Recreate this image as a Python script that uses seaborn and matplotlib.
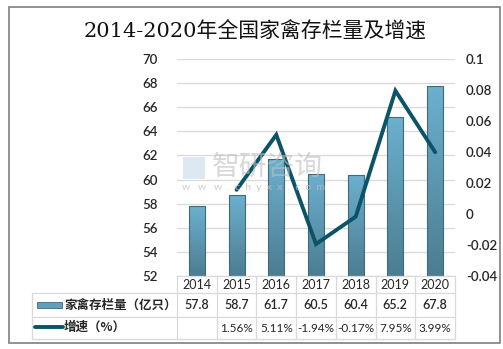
import numpy as np
import pandas as pd
import matplotlib
matplotlib.use("Agg")
import matplotlib.pyplot as plt
import seaborn as sns
from matplotlib.patches import Rectangle
from matplotlib.lines import Line2D
from matplotlib.colors import LinearSegmentedColormap

years = ["2014", "2015", "2016", "2017", "2018", "2019", "2020"]
stock = [57.8, 58.7, 61.7, 60.5, 60.4, 65.2, 67.8]
growth = [np.nan, 0.0156, 0.0511, -0.0194, -0.0017, 0.0795, 0.0399]
stock_labels = ["57.8", "58.7", "61.7", "60.5", "60.4", "65.2", "67.8"]
growth_labels = ["", "1.56%", "5.11%", "-1.94%", "-0.17%", "7.95%", "3.99%"]
left_ticks = [52, 54, 56, 58, 60, 62, 64, 66, 68, 70]
right_ticks = [-0.04, -0.02, 0, 0.02, 0.04, 0.06, 0.08, 0.1]
right_tick_labels = ["-0.04", "-0.02", "0", "0.02", "0.04", "0.06", "0.08", "0.1"]
title = "2014-2020年全国家禽存栏量及增速"
series1 = "家禽存栏量（亿只）"
series2 = "增速（%）"

sns.set_theme(style="white")
plt.rcParams["font.family"] = ["Lato", "Noto Sans CJK SC", "DejaVu Sans"]

W, H = 503, 349
fig = plt.figure(figsize=(W / 100, H / 100), dpi=100)

def fx(x):
    return x / W

def fy(y):
    return 1 - y / H

# plot area in pixels
L, R, T, B = 177, 455, 59, 276
ax = fig.add_axes([fx(L), fy(B), fx(R - L), (B - T) / H])
df = pd.DataFrame({"year": years, "stock": stock, "growth": growth})

BAR_TOP = "#6cb0cf"
BAR_BOT = "#4c7d90"
EDGE = "#3d6a7c"
LINE_C = "#0b5468"
GRID_C = "#d9d9d9"
TXT = "#262626"

sns.barplot(data=df, x="year", y="stock", ax=ax, width=0.4, color=BAR_TOP,
            edgecolor=EDGE, linewidth=0.8, zorder=2)
ax.set_ylim(52, 70)
ax.set_xlim(-0.5, 6.5)
ax.set_yticks(left_ticks)
ax.set_yticklabels([str(t) for t in left_ticks], fontsize=9.5, color=TXT,
                   fontweight="semibold")
ax.set_xticks([])
ax.set_xlabel("")
ax.set_ylabel("")
for s in ax.spines.values():
    s.set_visible(False)
ax.yaxis.grid(True, color=GRID_C, linewidth=0.9, zorder=0)
ax.set_axisbelow(True)
ax.tick_params(axis="y", length=0, pad=14)

# gradient fill on bars
cmap = LinearSegmentedColormap.from_list("g", [BAR_BOT, BAR_TOP])
grad = np.linspace(0, 1, 256).reshape(-1, 1)
for p in list(ax.patches):
    x0, y0 = p.get_x(), p.get_y()
    w, h = p.get_width(), p.get_height()
    im = ax.imshow(grad, cmap=cmap, origin="lower", aspect="auto",
                   extent=[x0, x0 + w, 52, y0 + h], zorder=2.1)
    im.set_clip_path(p)
    p.set_facecolor("none")
    p.set_zorder(2.2)

ax2 = ax.twinx()
sns.lineplot(x=np.arange(len(years)), y=df["growth"], ax=ax2, color=LINE_C,
             linewidth=2.8, zorder=3)
ax2.lines[0].set_solid_joinstyle("miter")
ax2.set_ylim(-0.04, 0.1)
ax2.set_yticks(right_ticks)
ax2.set_yticklabels(right_tick_labels, fontsize=9.5, color=TXT,
                    fontweight="semibold")
ax2.set_ylabel("")
ax2.tick_params(axis="y", length=0, pad=8)
for s in ax2.spines.values():
    s.set_visible(False)
ax2.set_xlim(-0.5, 6.5)

# outer border
fig.add_artist(Rectangle((fx(9), fy(343)), fx(491), (343 - 7) / H,
                         transform=fig.transFigure, fill=False,
                         edgecolor="#7f7f7f", linewidth=1.2))

# title
fig.text(fx(255), fy(32), title, ha="center", va="center", fontsize=15,
         color="#111111", family=["DejaVu Serif", "Noto Sans CJK SC"],
         fontweight="medium")

# watermark
fig.text(fx(212), fy(167), "智研咨询", ha="left", va="center", fontsize=20,
         color="#bfbfbf", alpha=0.6, family=["Noto Sans CJK SC"])
fig.text(fx(182), fy(187), "w   w   w  .  c  h  y  x  x  .  c  o  m", ha="left",
         va="center", fontsize=7.5, color="#bfbfbf", alpha=0.8)
fig.add_artist(Rectangle((fx(183), fy(179)), fx(22), 22 / H,
                         transform=fig.transFigure, facecolor="#c9d9ea",
                         edgecolor="none", alpha=0.6))

# table
col_edges = [177 + 39.7 * i for i in range(8)]

def hline(x0, x1, y):
    fig.add_artist(Line2D([fx(x0), fx(x1)], [fy(y), fy(y)],
                          transform=fig.transFigure, color=GRID_C, lw=0.9))

def vline(x, y0, y1):
    fig.add_artist(Line2D([fx(x), fx(x)], [fy(y0), fy(y1)],
                          transform=fig.transFigure, color=GRID_C, lw=0.9))

hline(177, 455, 276)
hline(32, 455, 293)
hline(32, 455, 317)
hline(32, 455, 339)
for x in col_edges:
    vline(x, 276, 339)
vline(32, 293, 339)

for i, yr in enumerate(years):
    cx = (col_edges[i] + col_edges[i + 1]) / 2
    fig.text(fx(cx), fy(285), yr, ha="center", va="center", fontsize=9, color=TXT)
    fig.text(fx(cx), fy(305), stock_labels[i], ha="center", va="center",
             fontsize=9, color=TXT, fontweight="semibold")
    fig.text(fx(cx), fy(328), growth_labels[i], ha="center", va="center",
             fontsize=8.5, color=TXT)

# legend keys
fig.add_artist(Rectangle((fx(37), fy(308)), fx(25), 6 / H,
                         transform=fig.transFigure, facecolor="#5f9fbd",
                         edgecolor=EDGE, linewidth=0.6))
fig.add_artist(Line2D([fx(35), fx(63)], [fy(327), fy(327)],
                      transform=fig.transFigure, color=LINE_C, lw=2.8))
fig.text(fx(64), fy(305), series1, ha="left", va="center", fontsize=9,
         color=TXT, family=["Noto Sans CJK SC"], fontweight="bold")
fig.text(fx(64), fy(327), series2, ha="left", va="center", fontsize=9,
         color=TXT, family=["Noto Sans CJK SC"], fontweight="bold")

fig.savefig("out.png", dpi=100)
